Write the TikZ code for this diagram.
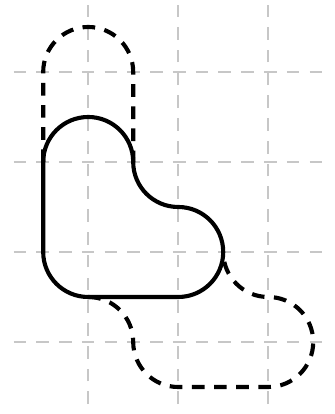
\documentclass[tikz,border=0pt]{standalone}
\begin{document}
\begin{tikzpicture}[
    gridline/.style={draw=black!22, line width=0.8pt, dash pattern=on 4pt off 3.2pt},
    outline/.style={draw=black, line width=1.3pt},
    ghost/.style={draw=black, line width=1.3pt, dash pattern=on 4pt off 3pt}
  ]
        \useasboundingbox (0.02,0.2) rectangle (3.74,4.8);
        \foreach \x in {1,2,3}
            \draw [gridline] (\x,0.31) -- (\x,4.74);
        \foreach \y in {1,2,3,4}
            \draw [gridline] (0.17,\y) -- (3.63,\y);
        % dashed copies
        \draw [ghost] (0.5,3) -- (0.5,4) arc (180:0:0.5) -- (1.5,3);
        \draw [ghost] (1,1.5) arc (90:0:0.5) arc (180:270:0.5) -- (3,0.5)
            arc (-90:90:0.5) arc (270:180:0.5);
        % solid shape
        \draw [outline] (0.5,3) arc (180:0:0.5) arc (180:270:0.5) arc (90:-90:0.5)
            -- (1,1.5) arc (270:180:0.5) -- cycle;
\end{tikzpicture}
\end{document}
